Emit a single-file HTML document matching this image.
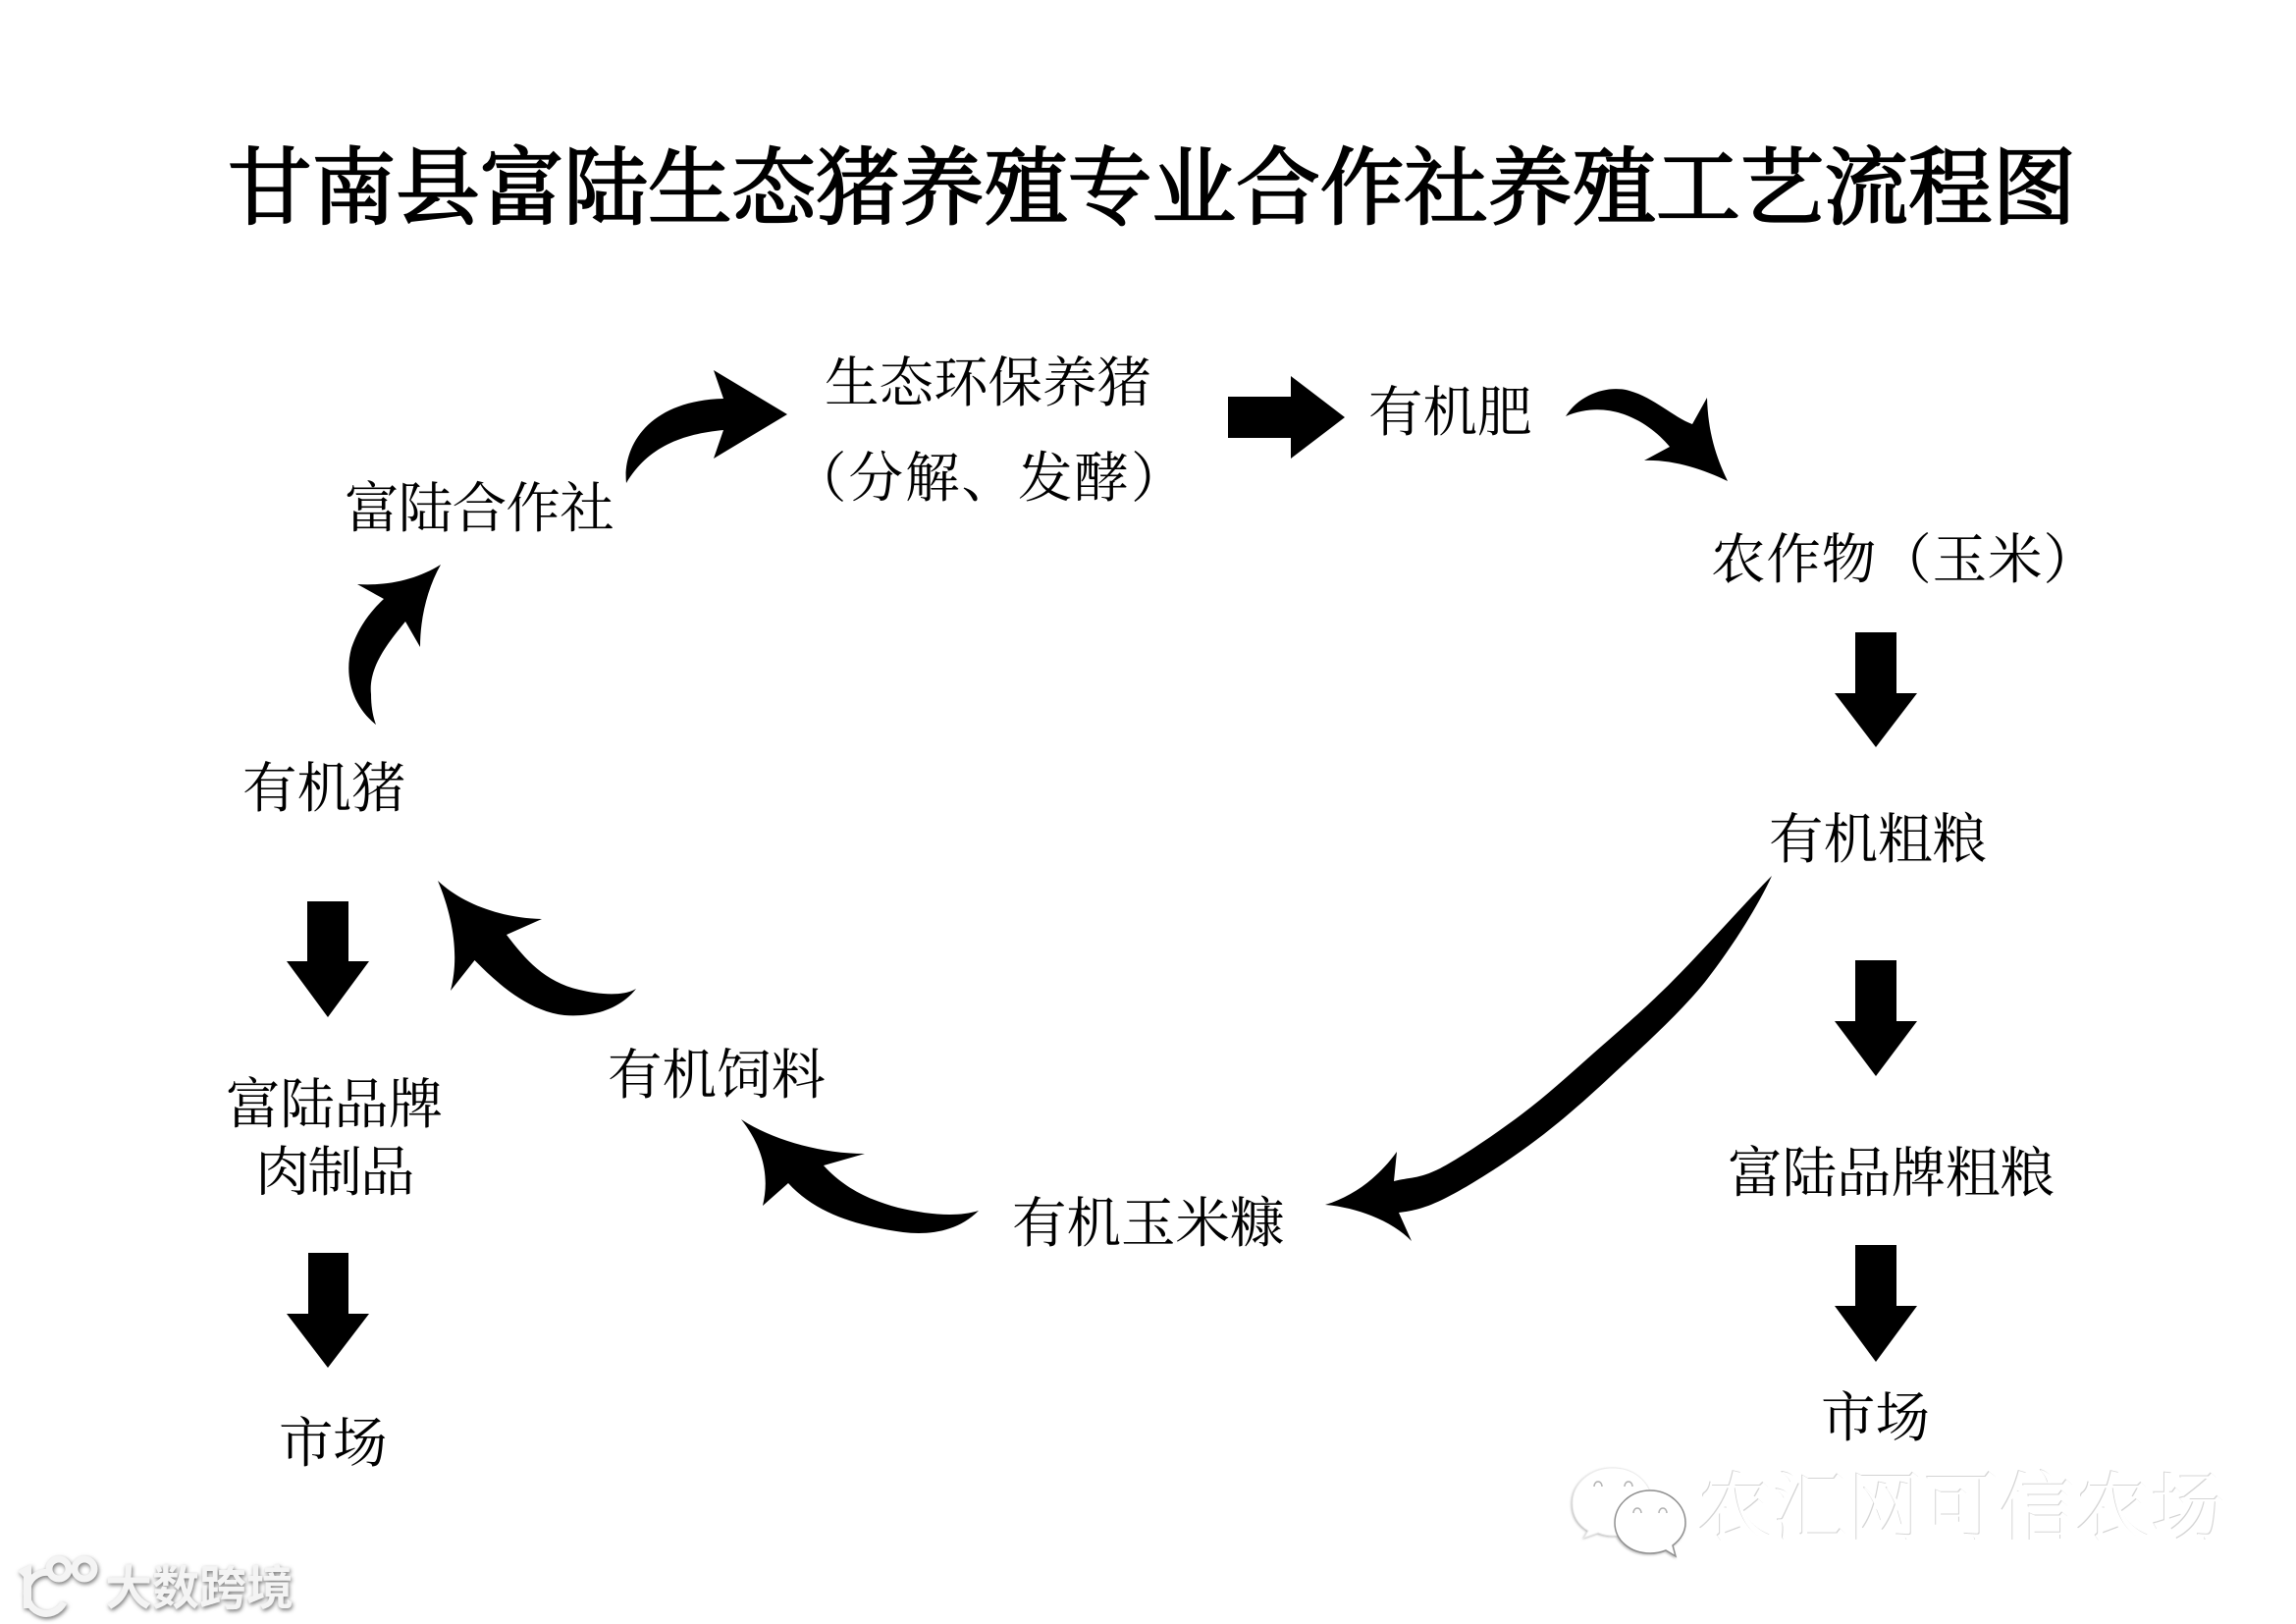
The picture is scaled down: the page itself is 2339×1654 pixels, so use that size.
<!DOCTYPE html>
<html lang="zh">
<head>
<meta charset="utf-8">
<title>甘南县富陆生态猪养殖专业合作社养殖工艺流程图</title>
<style>
html,body{margin:0;padding:0;background:#fff;width:2339px;height:1654px;overflow:hidden}
svg{display:block}
text{font-family:"Liberation Serif","Noto Serif CJK SC",serif}
.t{font-size:55.5px;fill:#000}
.title{font-size:85.6px;font-weight:400;fill:#000;stroke:#000;stroke-width:2.2px}
.wm{font-size:77px}
.bs{font-family:"Liberation Sans","Noto Sans CJK SC",sans-serif;font-size:48px;font-weight:700;fill:#f4f4f4}
</style>
</head>
<body>
<svg width="2339" height="1654" viewBox="0 0 2339 1654" xmlns="http://www.w3.org/2000/svg">
<rect width="2339" height="1654" fill="#fff"/>

<text class="title" x="232" y="221">甘南县富陆生态猪养殖专业合作社养殖工艺流程图</text>

<text class="t" x="840" y="409">生态环保养猪</text>
<text class="t" x="807" y="506" letter-spacing="2">（分解、发酵）</text>
<text class="t" x="351" y="537" letter-spacing="-0.7">富陆合作社</text>
<text class="t" x="1394" y="439">有机肥</text>
<text class="t" x="1743" y="589" letter-spacing="0.9">农作物（玉米）</text>
<text class="t" x="1802" y="874">有机粗粮</text>
<text class="t" x="1760" y="1214">富陆品牌粗粮</text>
<text class="t" x="1855" y="1463">市场</text>
<text class="t" x="247" y="822">有机猪</text>
<text class="t" x="619" y="1114">有机饲料</text>
<text class="t" x="230" y="1144" letter-spacing="-0.3">富陆品牌</text>
<text class="t" x="260" y="1213" letter-spacing="-2">肉制品</text>
<text class="t" x="284" y="1489" letter-spacing="-0.5">市场</text>
<text class="t" x="1031" y="1265">有机玉米糠</text>

<g fill="#000">
<path d="M638 492C634 455 660 408 737 406L727 377L802 422L727 467L737 438C695 442 660 455 638 492Z"/>
<path d="M1251 404H1315V383L1370 425L1315 467V446H1251Z"/>
<path d="M1595 424C1610 400 1640 392 1660 398C1685 405 1705 425 1724 432L1739 405C1740 440 1748 465 1760 490C1735 478 1705 468 1675 469L1701 455C1680 430 1640 405 1595 424Z"/>
<path d="M1890 644H1932V706H1953L1911 761L1869 706H1890Z"/>
<path d="M1890 978H1932V1040H1953L1911 1096L1869 1040H1890Z"/>
<path d="M1890 1268H1932V1330H1953L1911 1387L1869 1330H1890Z"/>
<path d="M313 918H355V979H376L334 1036L292 979H313Z"/>
<path d="M314 1276H355V1338H376L334 1393L292 1338H314Z"/>
<path d="M383 738C360 720 350 690 358 660C365 640 375 625 391 610L364 595C395 597 425 590 449 575C435 600 428 630 428 659L413 633C395 655 375 680 378 707C378 720 380 730 383 738Z"/>
<path d="M446 897C470 920 510 935 552 936L516 952C535 977 555 1000 590 1008C610 1013 635 1015 648 1007C630 1030 600 1036 575 1034C540 1030 510 1005 483.5 978L459 1009C468 975 462 935 446 897Z"/>
<path d="M755 1140C785 1160 835 1175 881 1175L839 1187C860 1210 885 1222 915 1230C945 1237 975 1240 997 1233C975 1255 945 1258 920 1255C878 1249 833 1238 803 1205L777 1228C785 1195 775 1165 755 1140Z"/>
<path d="M1805 892C1790 925 1762 968 1737 1000C1709.5 1034 1670 1069 1640 1097C1610 1125 1585 1146.5 1557 1167C1529 1187.5 1495 1209 1473 1220C1451 1231 1440 1233 1425 1235L1438 1264C1420 1245 1385 1230 1350 1227C1380 1218 1405 1198 1423 1173L1420 1203C1435 1199 1445 1201 1467 1190C1488.7 1178.7 1524 1154.5 1550 1135C1576 1115.5 1597.5 1095.5 1623 1073C1648.5 1050.5 1673 1030 1703 1000C1733 970 1780 917 1805 892Z"/>
</g>

<!-- WeChat watermark -->
<g style="filter:drop-shadow(-1px 1px 1px #bbb)" fill="#fff">
<path d="M1643 1495C1620 1495 1602 1511 1602 1531C1602 1544 1608 1553 1618 1559L1614 1566L1628 1561C1633 1563 1638 1564 1643 1564C1666 1564 1683 1549 1683 1531C1683 1511 1666 1495 1643 1495Z" stroke="#ececec" stroke-width="1"/>
<path d="M1681 1518C1661 1518 1645 1533 1645 1551C1645 1569 1661 1582 1681 1582C1687 1582 1692 1581 1697 1579L1707 1585L1704 1574C1712 1568 1717 1560 1717 1551C1717 1533 1701 1518 1681 1518Z" stroke="#8f8f8f" stroke-width="1.5"/>
</g>
<g fill="none" stroke="#b0b0b0" stroke-width="1.5">
<path d="M1624 1514a4 5 0 0 1 8 0"/>
<path d="M1655 1514a4 5 0 0 1 8 0"/>
<path d="M1664 1541a4 5 0 0 1 8 0"/>
<path d="M1690 1541a4 5 0 0 1 8 0"/>
</g>
<text class="wm" x="1728" y="1562" fill="#d4d4d4">农汇网可信农场</text>
<text class="wm" x="1729" y="1563" fill="#fff">农汇网可信农场</text>

<!-- lower-left watermark -->
<g style="filter:drop-shadow(1px 2px 2px #777)">
<g fill="none" stroke="#f4f4f4" stroke-width="7">
<path d="M52 1602A20 21 0 1 0 65 1632"/>
<circle cx="60" cy="1598" r="10"/>
<circle cx="86" cy="1598" r="10"/>
</g>
<path d="M18 1600L32 1593V1638H24V1606Z" fill="#f4f4f4"/>
<text class="bs" x="107" y="1634">大数跨境</text>
</g>
</svg>
</body>
</html>
